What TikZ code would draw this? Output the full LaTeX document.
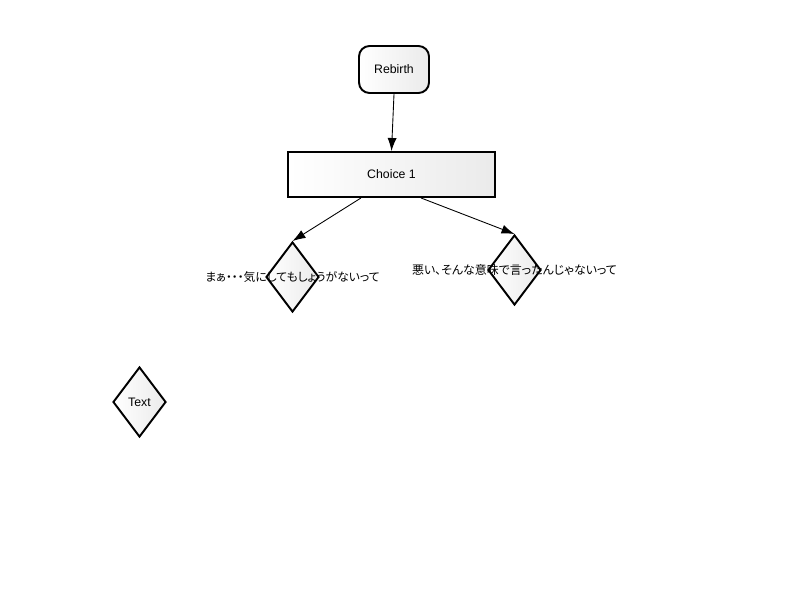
\documentclass[tikz,border=0pt]{standalone}
\usepackage{fontspec}
\setmainfont{Liberation Sans}
\newfontfamily\jpfont[RawFeature=+palt]{Noto Sans CJK JP}
\usetikzlibrary{shapes.geometric,arrows.meta}
\begin{document}
\begin{tikzpicture}[>={Latex[length=2.6mm,width=1.8mm]},font=\fontsize{7pt}{8pt}\selectfont,
	box/.style={draw,line width=1.1pt,left color=white,right color=black!8,inner sep=0pt},
	choicebox/.style={diamond,draw,line width=1.1pt,left color=white,right color=black!8,inner sep=0pt,minimum width=1.06cm,minimum height=1.4cm},
	link/.style={->,line width=0.5pt}]
	\useasboundingbox (0,0) rectangle (16,12);
	\node[box,rounded corners=6pt,minimum width=1.4cm,minimum height=0.94cm] (rebirth) at (7.88,10.61) {Rebirth};
	\node[box,minimum width=4.14cm,minimum height=0.9cm] (choice) at (7.83,8.51) {Choice 1};
	\node[choicebox,label={[font=\jpfont\fontsize{6.7pt}{8pt}\selectfont]center:まぁ・・・気にしてもしょうがないって}] (ans1) at (5.85,6.46) {};
	\node[choicebox,label={[font=\jpfont\fontsize{6.8pt}{8pt}\selectfont]center:悪い、そんな意味で言ったんじゃないって}] (ans2) at (10.29,6.6) {};
	\node[choicebox] (txt) at (2.79,3.96) {Text};
	\draw[link] (rebirth.south) -- (choice.north);
	\draw[link] ([xshift=-0.61cm]choice.south) -- (ans1.north);
	\draw[link] ([xshift=0.59cm]choice.south) -- (ans2.north);
\end{tikzpicture}
\end{document}
